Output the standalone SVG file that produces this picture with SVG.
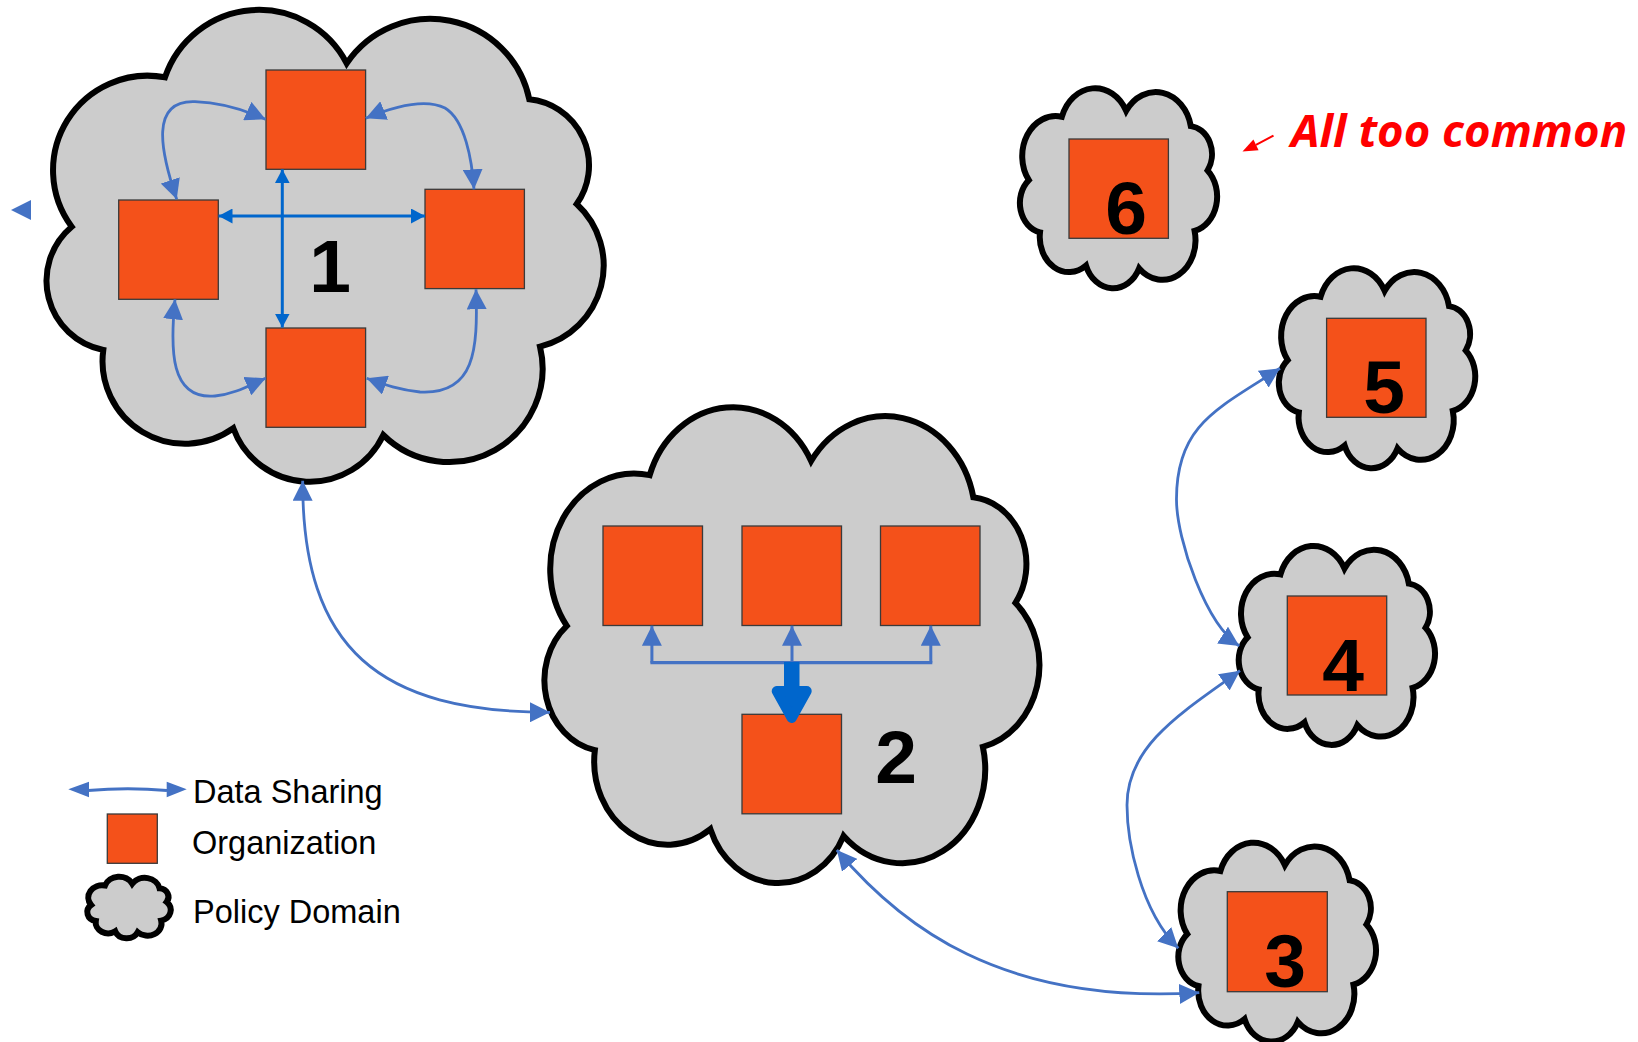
<svg xmlns="http://www.w3.org/2000/svg" xmlns:xlink="http://www.w3.org/1999/xlink" width="1638" height="1042" viewBox="0 0 1638 1042">
<style>
.cl{fill:#cccccc;stroke:#000000;stroke-width:6;vector-effect:non-scaling-stroke;stroke-linejoin:miter}
.org{fill:#f4511a;stroke:#3a3a3a;stroke-width:1.3}
.num{font-family:"Liberation Sans",Arial,sans-serif;font-weight:bold;font-size:75px;fill:#000;text-anchor:middle}
.leg{font-family:"Liberation Sans",Arial,sans-serif;font-size:32.5px;fill:#000}
.cn{fill:none;stroke:#4472c4;stroke-width:2.8;marker-start:url(#ah);marker-end:url(#ah)}
.cd{fill:none;stroke:#0066cc;stroke-width:3;marker-start:url(#ahd);marker-end:url(#ahd)}
.up{fill:none;stroke:#4472c4;stroke-width:3;marker-end:url(#ah)}
</style>
<defs>
<path id="cloudShape" class="cl" d="M 71.7,226.7 A 94.6,94.6 0 0 1 165,77.3 A 99,99 0 0 1 346.7,63.3 A 101,101 0 0 1 529.3,99.3 A 66.5,66.5 0 0 1 576.7,204 A 83.6,83.6 0 0 1 540,346.7 A 93.5,93.5 0 0 1 383.3,435 A 81.3,81.3 0 0 1 233.3,428.3 A 82.6,82.6 0 0 1 103.3,350 A 70.6,70.6 0 0 1 71.7,226.7 Z"/>
<marker id="ah" viewBox="0 0 20 20" refX="20" refY="10" markerWidth="20" markerHeight="20" markerUnits="userSpaceOnUse" orient="auto-start-reverse"><path d="M0,0 L20,10 L0,20 Z" fill="#4472c4"/></marker>
<marker id="ahd" viewBox="0 0 14 15" refX="14" refY="7.5" markerWidth="14" markerHeight="15" markerUnits="userSpaceOnUse" orient="auto-start-reverse"><path d="M0,0 L14,7.5 L0,15 Z" fill="#0066cc"/></marker>
</defs>
<rect width="1638" height="1042" fill="#ffffff"/>

<g id="domain1">
<use xlink:href="#cloudShape" href="#cloudShape"/>
<rect class="org" x="266" y="70" width="99.6" height="99.3"/>
<rect class="org" x="118.7" y="200" width="99.6" height="99.3"/>
<rect class="org" x="425" y="189.3" width="99.4" height="99.3"/>
<rect class="org" x="266" y="328" width="99.6" height="99.3"/>
<text class="num" x="330" y="292">1</text>
</g>

<g id="domain2">
<use xlink:href="#cloudShape" href="#cloudShape" transform="translate(503.08,397.2) scale(0.8885,1.0085)"/>
<rect class="org" x="603" y="526" width="99.5" height="99.5"/>
<rect class="org" x="742" y="526" width="99.5" height="99.5"/>
<rect class="org" x="880.5" y="526" width="99.5" height="99.5"/>
<rect class="org" x="742" y="714.3" width="99.5" height="99.5"/>
<text class="num" x="896" y="783">2</text>
</g>

<g id="domain6">
<use xlink:href="#cloudShape" href="#cloudShape" transform="translate(1003.44,84.06) scale(0.354,0.4237)"/>
<rect class="org" x="1069" y="139" width="99.4" height="99.3"/>
<text class="num" x="1126" y="234">6</text>
</g>

<g id="domain5">
<use xlink:href="#cloudShape" href="#cloudShape" transform="translate(1262.4,264.06) scale(0.3526,0.4237)"/>
<rect class="org" x="1326.6" y="318.3" width="99.4" height="99"/>
<text class="num" x="1384" y="412.5">5</text>
</g>

<g id="domain4">
<use xlink:href="#cloudShape" href="#cloudShape" transform="translate(1222.31,541.78) scale(0.3524,0.4216)"/>
<rect class="org" x="1287.3" y="596" width="99.4" height="99"/>
<text class="num" x="1343" y="690.5">4</text>
</g>

<g id="domain3">
<use xlink:href="#cloudShape" href="#cloudShape" transform="translate(1161.8,838.48) scale(0.3549,0.4216)"/>
<rect class="org" x="1227.3" y="891.7" width="100" height="100"/>
<text class="num" x="1285" y="987">3</text>
</g>

<g id="annotation">
<line x1="1273.5" y1="135.6" x2="1256" y2="144.9" stroke="#ff0000" stroke-width="2"/>
<polygon points="1242.5,151.5 1253.4,139.5 1258.6,150.3" fill="#ff0000"/>
<text x="1291" y="146.5" font-family="'Open Sans','Noto Sans',sans-serif" font-weight="bold" font-style="italic" font-size="45.5" fill="#ff0000">All too common</text>
</g>

<g id="legend">
<path d="M 88,790.5 Q 128,787 167,790.5" fill="none" stroke="#4472c4" stroke-width="2.8"/>
<polygon points="68.3,789.3 89,781.7 89,797.3" fill="#4472c4"/>
<polygon points="186.7,789.3 166.7,781.7 166.7,797.3" fill="#4472c4"/>
<text class="leg" x="193" y="803.3">Data Sharing</text>
<rect class="org" x="107.3" y="814" width="50" height="49.3"/>
<text class="leg" x="192" y="854">Organization</text>
<use xlink:href="#cloudShape" href="#cloudShape" transform="translate(80.34,875.39) scale(0.1497,0.1305)"/>
<text class="leg" x="193" y="923.3">Policy Domain</text>
</g>

<g id="connectors">
<polygon points="11,210 31,200 31,220" fill="#4472c4"/>
<path class="cd" d="M 282.3,169.3 L 282.3,327.5"/>
<path class="cd" d="M 218.5,216 L 425,216"/>
<path class="cn" d="M 176.7,199.3 C 160,150 150,100 195,101.7 C 222,102.7 245,110 265.5,119.3"/>
<path class="cn" d="M 365.7,118.3 C 395,106 425,98 445,108 C 465,120 472,160 474,189.3"/>
<path class="cn" d="M 175,299.3 C 170,350 170,400 215,396 C 235,394 250,385 265.7,378.3"/>
<path class="cn" d="M 476,289.3 C 478,350 475,395 420,392 C 400,390 385,385 366.7,378.3"/>
<path class="up" d="M 651.9,662.7 L 651.9,625.7"/>
<path class="up" d="M 792,662.7 L 792,625.7"/>
<path class="up" d="M 930.8,662.7 L 930.8,625.7"/>
<path d="M 650.4,662.7 L 932.3,662.7" stroke="#4472c4" stroke-width="3.3" fill="none"/>
<rect x="784" y="662" width="15.5" height="27" fill="#0066cc"/>
<polygon points="776.7,691 806.7,691 791.7,718" fill="#0066cc" stroke="#0066cc" stroke-width="10" stroke-linejoin="round"/>
<path class="cn" d="M 302.7,480.7 C 302,650 380,712 550,712.3"/>
<path class="cn" d="M 836.8,850 C 900,925 1000,1005 1199.3,992.7"/>
<path class="cn" d="M 1240,670.7 C 1183.2,711.6 1127,745 1127,805 C 1127,840 1140,910 1178.3,948.3"/>
<path class="cn" d="M 1280,368.3 C 1217,409 1176,425 1176.5,500 C 1176.7,540 1205.8,624.2 1239.3,646"/>
</g>
</svg>
